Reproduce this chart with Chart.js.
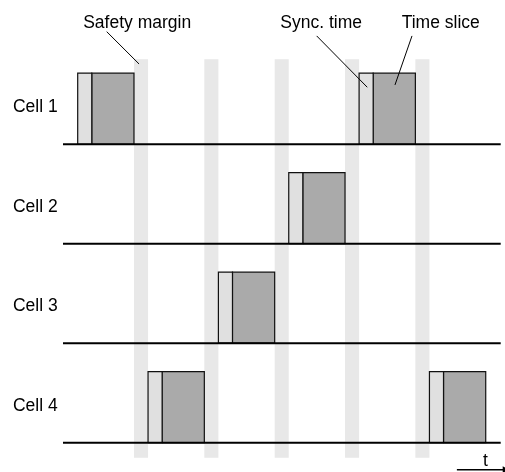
<!DOCTYPE html>
<html>
<head>
<meta charset="utf-8">
<script src="https://cdn.jsdelivr.net/npm/chart.js@4.4.1/dist/chart.umd.min.js"></script>
<style>
  html, body { margin: 0; padding: 0; background: #fff; }
  #wrap { width: 505px; height: 472px; position: relative; }
</style>
</head>
<body>
<div id="wrap"><canvas id="tdma"></canvas></div>
<script>
// cells and which time slots each one owns (slot = one period)
const cells = ['Cell 1', 'Cell 2', 'Cell 3', 'Cell 4'];
const cellSlots = [[0, 4], [3], [2], [1, 5]];
const cellBase = [3, 2, 1, 0];          // baseline value per row

// durations inside a slot
const syncLen = 0.2;
const sliceLen = 0.6;
const marginLen = 0.2;
const boxHeight = 0.714;

// safety margins drawn as grey bands after these slots
const bandSlots = [0, 1, 2, 3, 4];
const bandBottom = -0.151;
const bandTop = 3.854;

// baseline / time axis extent
const lineStart = -0.209;
const lineEnd = 6.013;
const arrowStart = 5.39;
const arrowEnd = 6.07;
const arrowY = -0.272;

// annotations: [text, x, y, align]
const labels = [
  ['Safety margin', 0.845, 4.166, 'center'],
  ['Sync. time', 3.46, 4.166, 'center'],
  ['Time slice', 5.16, 4.166, 'center'],
  ['t', 5.797, -0.234, 'center']
];
const labelOffset = 0.32;
const labelX = -0.92;

// leader lines from labels to the marks
const leaders = [
  [[0.412, 4.132], [0.872, 3.807]],
  [[3.397, 4.089], [4.116, 3.573]],
  [[4.752, 4.089], [4.51, 3.596]]
];

let rect = function (x0, x1, y0, y1) {
  return [{x: x0, y: y0}, {x: x1, y: y0}, {x: x1, y: y1}, {x: x0, y: y1}, {x: x0, y: y0}];
};

let datasets = [];

bandSlots.forEach(function (k) {
  let x0 = k + syncLen + sliceLen;
  datasets.push({
    data: rect(x0, x0 + marginLen, bandBottom, bandTop),
    showLine: true, fill: 'shape', borderWidth: 0, borderColor: 'rgba(0,0,0,0)',
    backgroundColor: '#e8e8e8', pointRadius: 0, order: 5
  });
});

cells.forEach(function (c, i) {
  let b = cellBase[i];
  cellSlots[i].forEach(function (s) {
    datasets.push({
      data: rect(s, s + syncLen, b, b + boxHeight),
      showLine: true, fill: 'shape', borderWidth: 1.2, borderColor: '#111',
      backgroundColor: '#e0e0e0', pointRadius: 0, order: 3
    });
    datasets.push({
      data: rect(s + syncLen, s + syncLen + sliceLen, b, b + boxHeight),
      showLine: true, fill: 'shape', borderWidth: 1.2, borderColor: '#111',
      backgroundColor: '#aaaaaa', pointRadius: 0, order: 3
    });
  });
  // baseline
  datasets.push({
    data: [{x: lineStart, y: b}, {x: lineEnd, y: b}],
    showLine: true, fill: false, borderWidth: 2, borderColor: '#000',
    pointRadius: 0, order: 1
  });
});

leaders.forEach(function (l) {
  datasets.push({
    data: [{x: l[0][0], y: l[0][1]}, {x: l[1][0], y: l[1][1]}],
    showLine: true, fill: false, borderWidth: 1, borderColor: '#000',
    pointRadius: 0, order: 1
  });
});

// time arrow
datasets.push({
  data: [{x: arrowStart, y: arrowY}, {x: arrowEnd, y: arrowY}],
  showLine: true, fill: false, borderWidth: 1.5, borderColor: '#000',
  pointRadius: [0, 4], pointStyle: 'triangle', rotation: 90,
  pointBackgroundColor: '#000', pointBorderWidth: 0, order: 1
});

let textPlugin = {
  id: 'texts',
  afterDatasetsDraw: function (chart) {
    let ctx = chart.ctx;
    let xs = chart.scales.x, ys = chart.scales.y;
    ctx.save();
    ctx.fillStyle = '#000';
    ctx.font = '17.5px "Liberation Sans", Arial, sans-serif';
    ctx.textBaseline = 'alphabetic';
    cells.forEach(function (c, i) {
      ctx.textAlign = 'left';
      ctx.fillText(c, xs.getPixelForValue(labelX), ys.getPixelForValue(cellBase[i] + labelOffset));
    });
    labels.forEach(function (l) {
      ctx.textAlign = l[3];
      ctx.fillText(l[0], xs.getPixelForValue(l[1]), ys.getPixelForValue(l[2]));
    });
    ctx.restore();
  }
};

new Chart(document.getElementById('tdma'), {
  type: 'scatter',
  data: { datasets: datasets },
  options: {
    responsive: true,
    maintainAspectRatio: false,
    animation: false,
    events: [],
    layout: { padding: 0, autoPadding: false },
    elements: { line: { tension: 0 } },
    scales: {
      x: { type: 'linear', display: false, min: -1.1045, max: 6.074 },
      y: { type: 'linear', display: false, min: -0.295, max: 4.45 }
    },
    plugins: {
      legend: { display: false },
      tooltip: { enabled: false }
    }
  },
  plugins: [textPlugin]
});
</script>
</body>
</html>
